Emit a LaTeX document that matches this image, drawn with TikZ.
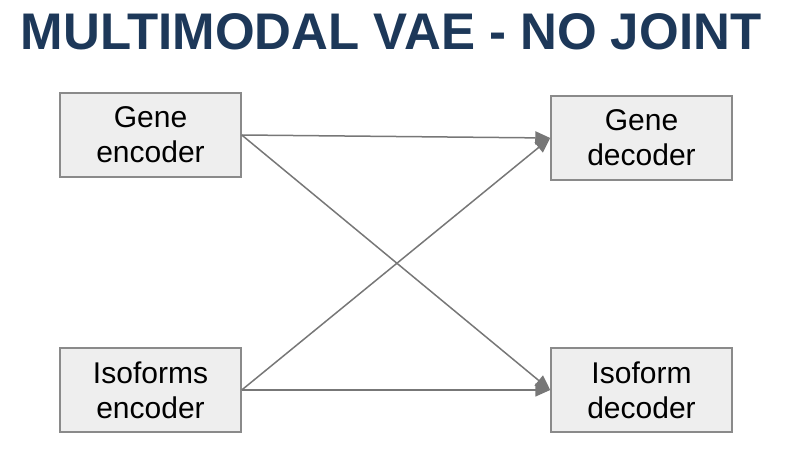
\documentclass[tikz,border=0pt]{standalone}
\usepackage{fontspec}
\setmainfont{Liberation Sans}
\usetikzlibrary{arrows.meta}
\definecolor{titleblue}{HTML}{1D3859}
\definecolor{boxfill}{HTML}{EEEEEE}
\definecolor{boxline}{HTML}{8A8A8A}
\definecolor{arrowgray}{HTML}{777777}
\begin{document}
\begin{tikzpicture}[x=1pt,y=-1pt,
		vae/.style={shape=rectangle, draw=boxline, fill=boxfill,
			line width=1.5pt, minimum width=181pt, minimum height=84pt,
			align=center, font=\fontsize{30}{35}\selectfont},
		link/.style={draw=arrowgray, line width=1.5pt,
			-{Triangle[length=15pt,width=13pt]}}]
		\useasboundingbox (0,0) rectangle (790,476);
		\node (title) at (391,32) {\textcolor{titleblue}{\scalebox{1.02}[1.03]{\fontsize{50}{60}\selectfont\bfseries MULTIMODAL VAE - NO JOINT}}};
		% encoders
		\node[vae] (geneenc) at (150.5,135) {Gene\\encoder};
		\node[vae] (isoenc) at (150.5,390) {Isoforms\\encoder};
		% decoders
		\node[vae] (genedec) at (641.5,138) {Gene\\decoder};
		\node[vae] (isodec) at (641.5,390) {Isoform\\decoder};
		% connections
		\draw[link] (geneenc.east) -- (genedec.west);
		\draw[link] (geneenc.east) -- (isodec.west);
		\draw[link] (isoenc.east) -- (genedec.west);
		\draw[link] (isoenc.east) -- (isodec.west);
\end{tikzpicture}
\end{document}
